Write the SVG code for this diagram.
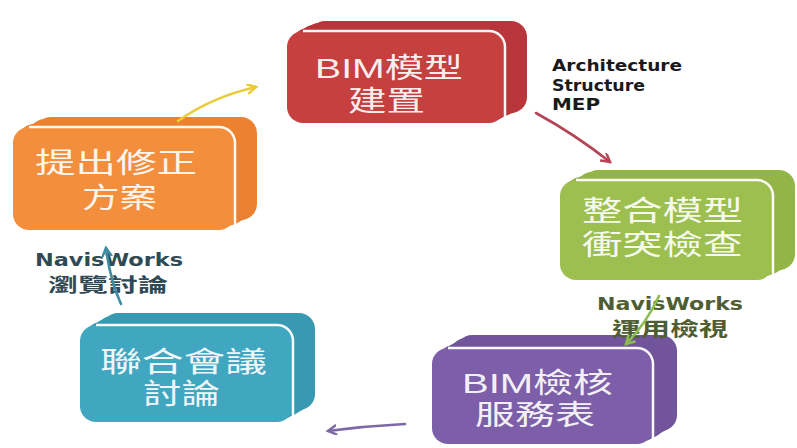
<svg xmlns="http://www.w3.org/2000/svg" width="797" height="448" viewBox="0 0 797 448">
<defs>
<style>
.t{font-family:"Liberation Sans","Noto Sans CJK TC","Noto Sans CJK SC",sans-serif;font-size:28px;fill:#ffffff;fill-opacity:0.93}
.lbl{font-family:"DejaVu Sans","Noto Sans CJK TC",sans-serif;font-weight:bold;font-size:15px;fill:#1a1a1a}
.lblc{font-family:"Noto Sans CJK TC","Noto Sans CJK SC",sans-serif;font-weight:bold;font-size:19px}
.hl{fill:none;stroke:#ffffff;stroke-width:2.5;stroke-opacity:0.95}
.con{fill:none;stroke-width:2.6;stroke-linecap:round}
</style>
<marker id="mY" markerWidth="12" markerHeight="12" refX="9" refY="5" orient="auto" markerUnits="userSpaceOnUse"><path d="M1,0.5 L9,5 L1,9.5" fill="none" stroke="#eacb3a" stroke-width="2.6" stroke-linecap="round"/></marker>
<marker id="mR" markerWidth="12" markerHeight="12" refX="9" refY="5" orient="auto" markerUnits="userSpaceOnUse"><path d="M1,0.5 L9,5 L1,9.5" fill="none" stroke="#b44456" stroke-width="2.4" stroke-linecap="round"/></marker>
<marker id="mG" markerWidth="12" markerHeight="12" refX="9" refY="5" orient="auto" markerUnits="userSpaceOnUse"><path d="M1,0.5 L9,5 L1,9.5" fill="none" stroke="#8cbd4e" stroke-width="2.4" stroke-linecap="round"/></marker>
<marker id="mP" markerWidth="12" markerHeight="12" refX="9" refY="5" orient="auto" markerUnits="userSpaceOnUse"><path d="M1,0.5 L9,5 L1,9.5" fill="none" stroke="#7d68a6" stroke-width="2.4" stroke-linecap="round"/></marker>
<marker id="mT" markerWidth="12" markerHeight="12" refX="9" refY="5" orient="auto" markerUnits="userSpaceOnUse"><path d="M1,0.5 L9,5 L1,9.5" fill="none" stroke="#3d8ca3" stroke-width="2.4" stroke-linecap="round"/></marker>
</defs>
<rect width="797" height="448" fill="#ffffff"/>

<g id="node-bim-model">
<g fill="#b8363b">
<rect x="292" y="28" width="218" height="92" rx="16"/>
<rect x="298" y="25" width="218" height="92" rx="16"/>
<rect x="303" y="23" width="218" height="92" rx="16"/>
<rect x="309" y="21" width="218" height="92" rx="16"/>
</g>
<rect x="287" y="31" width="218" height="92" rx="16" fill="#c6403f"/>
<path class="hl" d="M303,31 H489 A16,16 0 0 1 505,47 V123"/>
<text class="t"><tspan x="315" y="78" textLength="148" lengthAdjust="spacingAndGlyphs">BIM模型</tspan><tspan x="348" y="111" textLength="77" lengthAdjust="spacingAndGlyphs">建置</tspan></text>
</g>

<g id="node-proposal">
<g fill="#ec8230">
<rect x="18" y="124" width="222" height="103" rx="16"/>
<rect x="24" y="122" width="222" height="103" rx="16"/>
<rect x="29" y="119" width="222" height="103" rx="16"/>
<rect x="35" y="117" width="222" height="103" rx="16"/>
</g>
<rect x="13" y="127" width="222" height="103" rx="16" fill="#f38e3c"/>
<path class="hl" d="M29,127 H219 A16,16 0 0 1 235,143 V230"/>
<text class="t"><tspan x="35" y="173" textLength="162" lengthAdjust="spacingAndGlyphs">提出修正</tspan><tspan x="82" y="208" textLength="75" lengthAdjust="spacingAndGlyphs">方案</tspan></text>
</g>

<g id="node-clash">
<g fill="#93b446">
<rect x="565" y="177" width="213" height="100" rx="16"/>
<rect x="571" y="175" width="213" height="100" rx="16"/>
<rect x="576" y="172" width="213" height="100" rx="16"/>
<rect x="582" y="170" width="213" height="100" rx="16"/>
</g>
<rect x="560" y="180" width="213" height="100" rx="16" fill="#9dbf50"/>
<path class="hl" d="M576,180 H757 A16,16 0 0 1 773,196 V280"/>
<text class="t"><tspan x="582" y="221" textLength="161" lengthAdjust="spacingAndGlyphs">整合模型</tspan><tspan x="582" y="255" textLength="161" lengthAdjust="spacingAndGlyphs">衝突檢查</tspan></text>
</g>

<g id="node-meeting">
<g fill="#3799b2">
<rect x="85" y="322" width="213" height="97" rx="16"/>
<rect x="91" y="319" width="213" height="97" rx="16"/>
<rect x="96" y="316" width="213" height="97" rx="16"/>
<rect x="102" y="313" width="213" height="97" rx="16"/>
</g>
<rect x="80" y="325" width="213" height="97" rx="16" fill="#41a6bf"/>
<path class="hl" d="M96,325 H277 A16,16 0 0 1 293,341 V422"/>
<text class="t"><tspan x="100" y="372" textLength="167" lengthAdjust="spacingAndGlyphs">聯合會議</tspan><tspan x="143" y="404" textLength="77" lengthAdjust="spacingAndGlyphs">討論</tspan></text>
</g>

<g id="node-review">
<g fill="#72549c">
<rect x="438" y="345" width="221" height="96" rx="16"/>
<rect x="444" y="342" width="221" height="96" rx="16"/>
<rect x="450" y="338" width="221" height="96" rx="16"/>
<rect x="456" y="335" width="221" height="96" rx="16"/>
</g>
<rect x="432" y="348" width="221" height="96" rx="16" fill="#7c5fa8"/>
<path class="hl" d="M448,348 H637 A16,16 0 0 1 653,364 V444"/>
<text class="t"><tspan x="462" y="393" textLength="151" lengthAdjust="spacingAndGlyphs">BIM檢核</tspan><tspan x="475" y="425" textLength="120" lengthAdjust="spacingAndGlyphs">服務表</tspan></text>
</g>

<g id="labels">
<text class="lbl"><tspan x="552" y="71" textLength="130" lengthAdjust="spacingAndGlyphs">Architecture</tspan><tspan x="552" y="91" textLength="93" lengthAdjust="spacingAndGlyphs">Structure</tspan><tspan x="552" y="110" textLength="48" lengthAdjust="spacingAndGlyphs">MEP</tspan></text>
<text class="lbl" style="fill:#4f5d33;font-size:17px"><tspan x="597" y="310" textLength="146" lengthAdjust="spacingAndGlyphs">NavisWorks</tspan><tspan class="lblc" x="612" y="336" textLength="116" lengthAdjust="spacingAndGlyphs">運用檢視</tspan></text>
<text class="lbl" style="fill:#2f4a55;font-size:17px"><tspan x="35" y="266" textLength="148" lengthAdjust="spacingAndGlyphs">NavisWorks</tspan><tspan class="lblc" x="48" y="292" textLength="120" lengthAdjust="spacingAndGlyphs">瀏覽討論</tspan></text>
</g>

<g id="connectors">
<path class="con" d="M178,121 Q212,97 256,87" stroke="#eacb3a" marker-end="url(#mY)"/>
<path class="con" d="M536,113 Q576,135 610,162" stroke="#b44456" marker-end="url(#mR)"/>
<path class="con" d="M659,296 Q646,324 626,344" stroke="#8cbd4e" marker-end="url(#mG)"/>
<path class="con" d="M405,424 Q366,426 328,431" stroke="#7d68a6" marker-end="url(#mP)"/>
<path class="con" d="M121,304 Q110,280 106,248" stroke="#3d8ca3" marker-end="url(#mT)"/>
</g>
</svg>
